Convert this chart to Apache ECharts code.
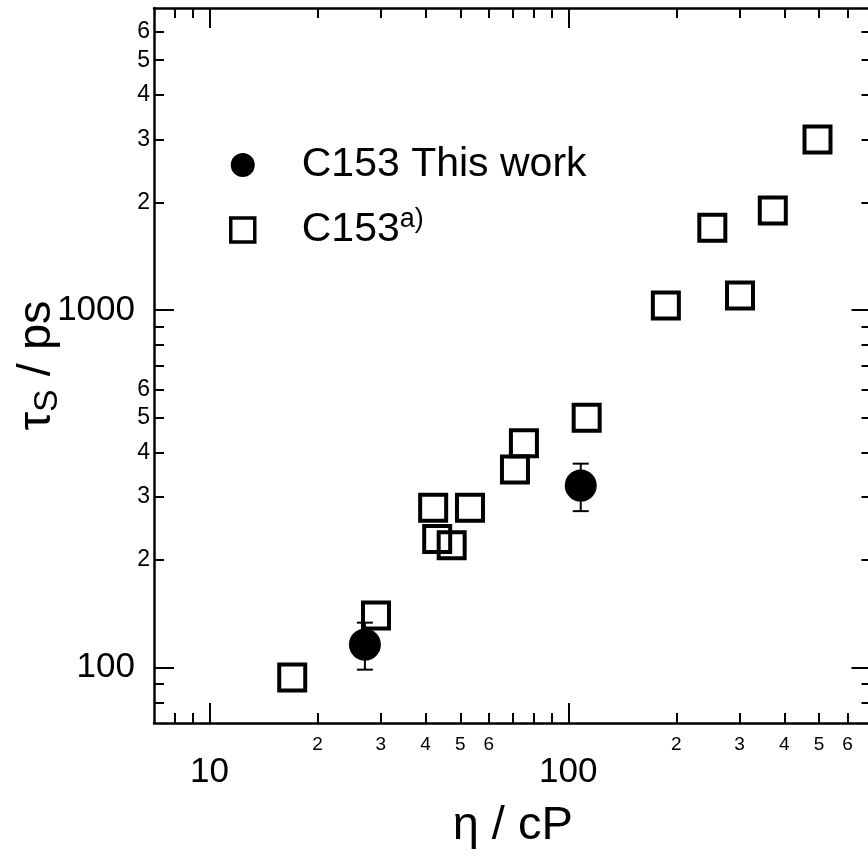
<!DOCTYPE html>
<html>
<head>
<meta charset="utf-8">
<script src="https://cdn.jsdelivr.net/npm/echarts@6/dist/echarts.min.js"></script>
<style>
    html, body { margin: 0; padding: 0; background: #fff; }
    #chart { width: 868px; height: 859px; }
</style>
</head>
<body>
<div id="chart"></div>
<script>
// C153 this work (filled circles, with error bars)
const thisEta = [27.1, 108.3];
const thisTau = [116, 323];
const thisLow = [98.7, 274];
const thisHigh = [133.6, 372];

// C153 a) (open squares)
const refEta = [17.0, 29.1, 42.0, 53.2, 43.1, 47.3, 71.0, 75.2, 112.5, 187, 252, 301, 371.5, 495];
const refTau = [93.8, 140, 280, 280, 229, 220, 358, 424, 500, 1031, 1700, 1099, 1900, 3000];

// axis ticks
const xMajor = [10, 100];
const xMinorLabels = [20, 30, 40, 50, 60, 200, 300, 400, 500, 600];
const xMinorTicks = [8, 9, 20, 30, 40, 50, 60, 70, 80, 90, 200, 300, 400, 500, 600];
const yMajor = [100, 1000];
const yMinorLabels = [200, 300, 400, 500, 600, 2000, 3000, 4000, 5000, 6000];
const yMinorTicks = [80, 90, 200, 300, 400, 500, 600, 700, 800, 900, 2000, 3000, 4000, 5000, 6000];

const FONT = 'Liberation Sans';
const myChart = echarts.init(document.getElementById('chart'), null, { renderer: 'canvas' });

// 两个 grid 完全重合：一个画主刻度，一个画次刻度
const gridBox = { left: 154, top: 8, width: 717.5, height: 715, containLabel: false, outerBoundsMode: 'none' };

const leadDigit = v => String(v).charAt(0);
const plain = v => String(Math.round(v));

function makeAxis(o) {
    return Object.assign({
        type: 'log',
        logBase: 10,
        splitLine: { show: false },
        axisLine: { show: false },
        axisTick: { show: false },
        axisLabel: { show: false },
    }, o);
}

const line = { show: true, onZero: false, lineStyle: { color: '#000', width: 2.5 } };
const tickStyle = { color: '#000', width: 2 };

const xAxes = [
    // bottom, major
    makeAxis({
        gridIndex: 0, position: 'bottom', min: 7, max: 700,
        axisLine: line,
        axisTick: { show: true, inside: true, length: 20, customValues: xMajor, lineStyle: tickStyle },
        axisLabel: { show: true, customValues: xMajor, formatter: plain, margin: 32, color: '#000', fontSize: 35, fontFamily: FONT },
        name: 'η / cP', nameLocation: 'middle', nameGap: 80, nameMoveOverlap: false,
        nameTextStyle: { color: '#000', fontSize: 47, fontFamily: FONT },
    }),
    // top, major
    makeAxis({
        gridIndex: 0, position: 'top', min: 7, max: 700,
        axisLine: line,
        axisTick: { show: true, inside: true, length: 20, customValues: xMajor, lineStyle: tickStyle },
    }),
    // bottom, minor
    makeAxis({
        gridIndex: 1, position: 'bottom', min: 7, max: 700,
        axisTick: { show: true, inside: true, length: 10, customValues: xMinorTicks, lineStyle: tickStyle },
        axisLabel: { show: true, customValues: xMinorLabels, formatter: leadDigit, margin: 12, color: '#000', fontSize: 19, fontFamily: FONT },
    }),
    // top, minor
    makeAxis({
        gridIndex: 1, position: 'top', min: 7, max: 700,
        axisTick: { show: true, inside: true, length: 10, customValues: xMinorTicks, lineStyle: tickStyle },
    }),
];

const yAxes = [
    makeAxis({
        gridIndex: 0, position: 'left', min: 70, max: 7000,
        axisLine: line,
        axisTick: { show: true, inside: true, length: 20, customValues: yMajor, lineStyle: tickStyle },
        axisLabel: { show: true, customValues: yMajor, formatter: plain, margin: 19, color: '#000', fontSize: 35, fontFamily: FONT },
        name: '{t|τ}{s|S}{t| / ps}', nameLocation: 'middle', nameGap: 93, nameRotate: 90, nameMoveOverlap: false,
        nameTextStyle: {
            color: '#000', fontFamily: FONT,
            rich: {
                t: { fontSize: 47, fontFamily: FONT, color: '#000', lineHeight: 52, verticalAlign: 'bottom' },
                s: { fontSize: 34, fontFamily: FONT, color: '#000', lineHeight: 52, verticalAlign: 'bottom', padding: [0, 0, -4, 0] },
            },
        },
    }),
    makeAxis({
        gridIndex: 0, position: 'right', min: 70, max: 7000,
        axisLine: line,
        axisTick: { show: true, inside: true, length: 20, customValues: yMajor, lineStyle: tickStyle },
    }),
    makeAxis({
        gridIndex: 1, position: 'left', min: 70, max: 7000,
        axisTick: { show: true, inside: true, length: 10, customValues: yMinorTicks, lineStyle: tickStyle },
        axisLabel: { show: true, customValues: yMinorLabels, formatter: leadDigit, margin: 4, color: '#000', fontSize: 23, fontFamily: FONT },
    }),
    makeAxis({
        gridIndex: 1, position: 'right', min: 70, max: 7000,
        axisTick: { show: true, inside: true, length: 10, customValues: yMinorTicks, lineStyle: tickStyle },
    }),
];

const thisData = thisEta.map((x, i) => [x, thisTau[i]]);
const errData = thisEta.map((x, i) => [x, thisTau[i], thisLow[i], thisHigh[i]]);
const refData = refEta.map((x, i) => [x, refTau[i]]);

const options = {
    animation: false,
    backgroundColor: '#fff',
    grid: [Object.assign({}, gridBox), Object.assign({}, gridBox)],
    xAxis: xAxes,
    yAxis: yAxes,
    legend: {
        data: [
            { name: 'C153 This work', icon: 'circle' },
            {
                name: 'C153a)', icon: 'rect',
                itemStyle: { color: 'rgba(255,255,255,0)', borderColor: '#000', borderWidth: 3.5 },
            },
        ],
        orient: 'vertical',
        left: 229,
        top: 141,
        padding: 0,
        itemGap: 17,
        itemWidth: 24,
        itemHeight: 24,
        selectedMode: false,
        formatter: name => (name === 'C153a)' ? 'C153{sup|a)}' : name),
        textStyle: {
            color: '#000',
            fontSize: 41,
            fontFamily: FONT,
            lineHeight: 48,
            padding: [0, 0, 0, 42],
            rich: {
                sup: { fontSize: 27, fontFamily: FONT, color: '#000', lineHeight: 48, verticalAlign: 'top', padding: [0, 0, 16, 0] },
            },
        },
    },
    series: [
        {
            // 误差线
            name: 'err',
            type: 'custom',
            xAxisIndex: 0,
            yAxisIndex: 0,
            data: errData,
            encode: { x: 0, y: [1, 2, 3] },
            z: 2,
            renderItem: (params, api) => {
                const x = api.value(0);
                const lo = api.coord([x, api.value(2)]);
                const hi = api.coord([x, api.value(3)]);
                const w = 8;
                const st = { stroke: '#000', lineWidth: 2 };
                return {
                    type: 'group',
                    children: [
                        { type: 'line', shape: { x1: lo[0], y1: lo[1], x2: hi[0], y2: hi[1] }, style: st },
                        { type: 'line', shape: { x1: lo[0] - w, y1: lo[1], x2: lo[0] + w, y2: lo[1] }, style: st },
                        { type: 'line', shape: { x1: hi[0] - w, y1: hi[1], x2: hi[0] + w, y2: hi[1] }, style: st },
                    ],
                };
            },
        },
        {
            name: 'C153 This work',
            type: 'scatter',
            xAxisIndex: 0,
            yAxisIndex: 0,
            data: thisData,
            symbol: 'circle',
            symbolSize: 32,
            z: 3,
            itemStyle: { color: '#000', opacity: 1 },
        },
        {
            name: 'C153a)',
            type: 'scatter',
            xAxisIndex: 0,
            yAxisIndex: 0,
            data: refData,
            symbol: 'rect',
            symbolSize: 26,
            z: 4,
            itemStyle: { color: 'rgba(255,255,255,0)', borderColor: '#000', borderWidth: 4, opacity: 1 },
        },
    ],
};

myChart.setOption(options);
</script>
</body>
</html>
